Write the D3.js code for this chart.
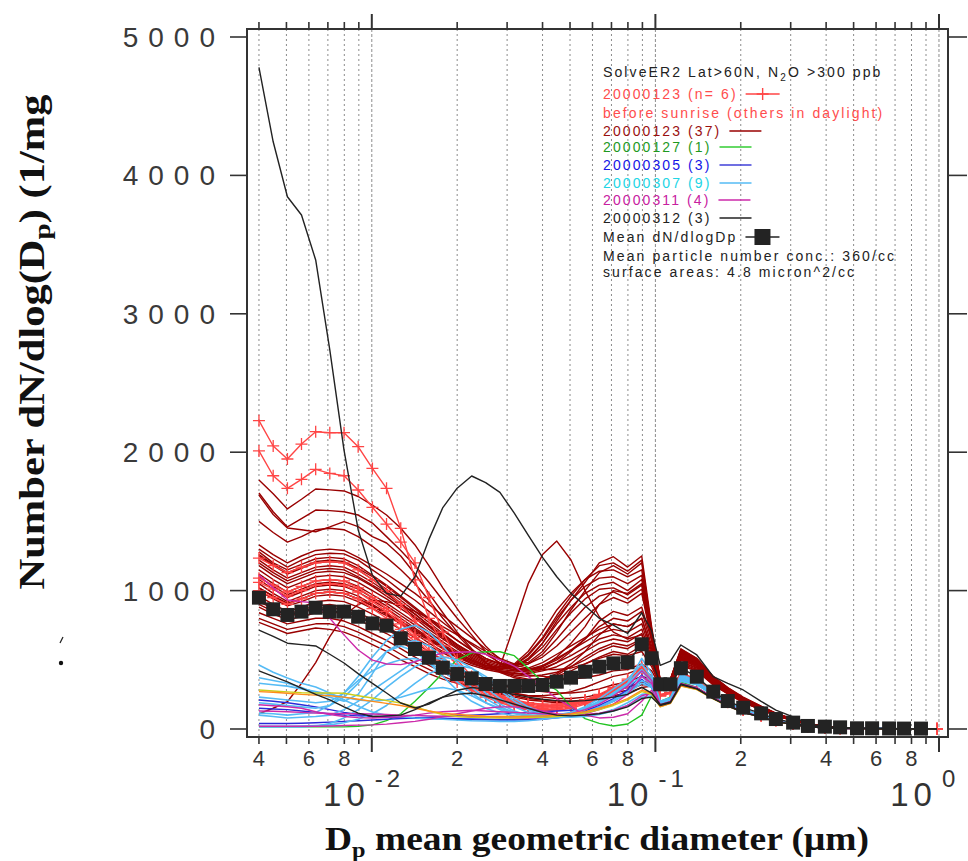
<!DOCTYPE html>
<html>
<head>
<meta charset="utf-8">
<script src="https://cdn.jsdelivr.net/npm/d3@7"></script>
<style>
	body { margin: 0; background: #fff; }
	svg { display: block; }
</style>
</head>
<body>
<svg id="svgSize" width="968" height="861"></svg>
<script>
// size bins (micron)
const diameters = [
	0.0040, 0.00449, 0.00504, 0.00565, 0.00634, 0.00711, 0.00798, 0.00895, 0.01005, 0.01127,
	0.01265, 0.0142, 0.0159, 0.0178, 0.0200, 0.0225, 0.0252, 0.0283, 0.0318, 0.0356,
	0.0400, 0.0449, 0.0504, 0.0565, 0.0634, 0.0711, 0.0798, 0.0895, 0.097, 0.104,
	0.113, 0.123, 0.140, 0.160, 0.180, 0.204, 0.236, 0.266, 0.306, 0.345,
	0.396, 0.448, 0.514, 0.581, 0.667, 0.753, 0.864, 0.984,
];

// 20000123 before sunrise (n=6)
const redPlusSeries = [
	[2228,2045,1951,2059,2148,2141,2141,2040,1883,1739, 1450,1077,800,600,450,350,280,230,200,180, 170,170,180,200,230,270,320,420,340,240, 260,400,350,260,195,140,98,64,38,19, 9,5,4,3,2,2,1,1],
	[2009,1830,1739,1804,1876,1847,1830,1727,1602,1481, 1350,1200,950,700,500,380,300,240,210,190, 180,180,190,210,240,280,330,430,345,245, 262,405,352,262,196,141,99,64,38,19, 9,5,4,3,2,2,1,1],
	[1235,1180,1130,1170,1200,1210,1200,1150,1080,1000, 900,780,650,520,420,340,270,220,190,170, 160,165,180,210,250,300,360,460,360,250, 265,410,355,265,198,142,100,65,39,19, 9,5,4,3,2,2,1,1],
	[1090,1040,990,1030,1070,1080,1070,1020,950,870, 780,680,570,460,380,310,250,210,180,160, 150,155,170,200,240,290,350,440,350,245, 262,405,352,262,196,141,99,64,38,19, 9,5,4,3,2,2,1,1],
	[1060,1010,960,1000,1040,1050,1040,990,920,850, 760,660,550,440,360,290,240,200,170,150, 140,145,160,190,230,280,340,430,345,242, 260,400,350,260,195,140,98,64,38,19, 9,5,4,3,2,2,1,1],
	[1000,950,900,940,980,990,980,940,870,800, 720,630,520,420,340,280,230,190,160,140, 130,135,150,180,220,270,330,420,340,240, 258,398,348,258,194,139,98,63,37,18, 9,5,4,3,2,2,1,1],
];

// 20000123 (37)
const darkRedSeries = [
	[1800,1700,1590,1660,1734,1728,1720,1680,1618,1546, 1450,1330,1180,1020,870,720,600,500,440,420, 450,520,620,740,900,1000,980,1050,700,350, 360,580,510,380,300,230,165,115,72,40, 20,10,6,4,3,2,2,1],
	[1705,1570,1460,1520,1582,1578,1570,1546,1488,1390, 1290,1180,1060,930,800,680,560,470,420,410, 430,480,560,650,780,850,820,880,640,340, 350,540,480,360,280,210,155,108,68,38, 18,9,5,4,3,2,2,1],
	[1690,1550,1452,1440,1425,1460,1498,1462,1390,1344, 1250,1120,980,840,700,580,480,420,380,360, 360,380,420,470,520,560,540,600,500,320, 340,500,450,340,265,200,148,104,65,36, 17,9,5,4,3,2,2,1],
	[1500,1420,1350,1390,1440,1450,1440,1390,1320,1240, 1150,1050,930,800,680,570,480,410,370,350, 360,400,470,560,680,760,740,800,580,330, 345,520,465,350,272,205,150,106,66,37, 17,9,5,4,3,2,2,1],
	[1330,1260,1200,1250,1290,1300,1290,1240,1180,1120, 1050,980,900,820,740,660,580,510,470,480, 560,700,860,1000,1130,1180,1120,1200,720,350, 360,570,505,375,295,225,162,112,70,39, 19,10,6,4,3,2,2,1],
	[1300,1230,1170,1220,1260,1270,1265,1220,1150,1080, 1000,930,850,770,690,610,540,480,450,500, 620,780,930,1060,1200,1245,1170,1250,740,355, 362,575,508,378,297,226,163,113,70,39, 19,10,6,4,3,2,2,1],
	[1280,1200,1150,1190,1230,1240,1230,1180,1110,1040, 960,880,800,720,640,570,510,470,460,540, 660,820,960,1080,1180,1200,1140,1220,710,350, 358,565,502,372,292,222,160,111,69,38, 19,10,6,4,3,2,2,1],
	[1260,1190,1130,1170,1210,1220,1210,1160,1100,1030, 950,870,790,710,640,570,510,470,440,430, 450,500,570,650,740,800,780,850,600,335, 345,540,486,358,282,213,154,106,66,36, 18,9,5,4,3,2,2,1],
	[1250,1180,1120,1160,1200,1210,1200,1150,1080,1010, 930,850,770,690,610,540,490,460,470,560, 700,860,980,1080,1140,1150,1100,1150,690,345, 355,560,498,368,290,220,158,110,68,38, 18,9,5,4,3,2,2,1],
	[1220,1150,1090,1130,1170,1180,1170,1120,1060,990, 910,830,750,670,600,530,480,450,460,530, 650,800,930,1030,1090,1100,1050,1110,680,342, 352,555,495,365,288,218,157,109,68,38, 18,9,5,4,3,2,2,1],
	[1200,1130,1070,1110,1150,1160,1150,1100,1040,980, 900,830,750,680,610,550,500,470,460,470, 520,600,700,800,900,950,910,980,640,338, 348,545,490,360,284,215,155,107,67,37, 18,9,5,4,3,2,2,1],
	[1180,1110,1050,1090,1130,1140,1130,1090,1030,960, 890,810,740,660,590,520,470,440,450,510, 620,760,880,980,1040,1060,1000,1080,670,340, 350,550,492,362,286,216,156,108,67,37, 18,9,5,4,3,2,2,1],
	[1150,1080,1020,1060,1100,1110,1100,1060,1000,940, 870,800,720,650,580,510,460,440,450,500, 590,720,840,940,1010,1020,970,1040,660,338, 348,545,490,360,284,215,155,107,67,37, 18,9,5,4,3,2,2,1],
	[1120,1050,990,1030,1070,1080,1070,1030,970,910, 840,770,700,630,560,500,460,440,440,470, 540,650,770,880,960,990,940,1010,650,335, 345,540,486,358,282,213,154,106,66,36, 18,9,5,4,3,2,2,1],
	[1100,1030,970,1010,1050,1060,1050,1010,950,890, 820,750,680,610,550,500,460,440,430,440, 480,540,600,660,720,760,740,800,560,330, 340,530,480,355,280,212,153,105,66,36, 18,9,5,4,3,2,2,1],
	[1080,1010,950,990,1030,1040,1030,990,930,870, 800,730,660,600,540,490,450,430,420,430, 460,510,570,630,690,720,700,760,540,325, 338,525,476,352,278,210,152,104,65,36, 17,9,5,4,3,2,2,1],
	[1050,980,920,960,1000,1010,1000,960,900,840, 780,720,650,590,530,480,440,420,410,420, 440,480,530,590,650,680,660,720,520,322, 335,520,472,350,276,208,150,103,65,36, 17,9,5,4,3,2,2,1],
	[1020,960,910,940,980,990,980,940,890,830, 770,710,650,590,540,490,450,420,400,390, 380,370,360,370,390,420,430,470,420,310, 322,500,455,340,268,202,146,100,63,35, 17,9,5,4,3,2,2,1],
	[1000,940,890,920,960,970,960,920,870,820, 760,700,640,580,520,470,440,420,400,400, 420,450,500,560,620,650,630,690,500,320, 332,515,470,348,274,207,149,102,64,35, 17,9,5,4,3,2,2,1],
	[960,900,850,880,920,930,920,880,830,780, 720,660,600,550,500,460,430,410,390,380, 390,410,450,500,560,600,580,640,480,318, 330,510,466,345,272,205,148,101,64,35, 17,9,5,4,3,2,2,1],
	[920,870,830,860,890,900,880,840,790,740, 680,620,560,500,440,390,350,320,300,280, 270,260,260,270,290,320,340,380,360,300, 315,480,440,330,262,198,143,98,62,34, 16,8,5,4,3,2,2,1],
	[900,850,810,840,870,880,860,820,770,720, 660,600,540,480,430,380,340,310,300,310, 340,390,450,520,580,620,600,650,480,318, 330,510,466,345,272,205,148,101,64,35, 17,9,5,4,3,2,2,1],
	[880,830,790,810,840,850,830,790,740,690, 630,570,510,450,400,350,310,280,260,240, 230,220,220,230,250,280,300,340,330,295, 310,470,432,325,258,195,141,97,61,34, 16,8,5,4,3,2,2,1],
	[840,800,760,780,800,800,780,740,690,640, 580,520,460,410,360,320,290,260,240,220, 210,200,200,210,230,260,280,320,320,292, 305,460,425,320,255,193,140,96,60,33, 16,8,5,4,3,2,2,1],
	[800,760,720,740,760,760,740,700,650,600, 540,480,430,380,340,300,270,250,230,210, 200,190,190,200,220,240,260,300,310,290, 302,455,420,318,253,192,139,95,60,33, 16,8,5,4,3,2,2,1],
	[770,730,690,710,730,720,700,660,610,560, 500,450,400,360,330,300,280,260,250,240, 240,250,270,300,340,380,400,440,380,305, 318,485,445,333,264,200,145,99,62,34, 16,8,5,4,3,2,2,1],
	[110,150,197,330,480,667,820,900,930,920, 890,850,800,740,680,620,560,500,460,440, 430,430,440,470,510,540,530,560,450,315, 328,505,462,342,270,204,147,101,63,35, 17,9,5,4,3,2,2,1],
	[1020,960,900,940,980,990,980,940,890,830, 760,690,620,560,520,480,440,450,750,1050, 1260,1358,1221,1000,811,700,650,680,480,318, 330,510,466,345,272,205,148,101,64,35, 17,9,5,4,3,2,2,1],
];

// 20000127 (1)
const greenSeries = [
	[15,15,15,15,15,15,15,20,30,60, 110,200,300,404,500,550,558,558,530,440, 340,280,160,75,41,22,36,100,240,200, 230,340,300,230,180,140,95,60,35,18, 10,6,4,3,3,2,2,1],
];

// 20000305 (3)
const blueSeries = [
	[210,200,190,175,160,140,120,105,92,85, 80,78,75,72,70,68,66,65,65,66, 70,80,95,120,160,210,270,360,300,168, 192,322,292,222,168,122,86,55,33,16, 8,5,4,3,2,2,1,1],
	[150,145,140,130,120,110,100,95,90,88, 85,82,80,78,75,73,70,68,68,70, 75,85,100,130,170,220,285,390,320,170, 194,324,293,223,169,122,86,55,33,16, 8,5,4,3,2,2,1,1],
	[40,40,40,42,45,50,55,60,65,70, 75,80,85,90,95,100,105,110,115,120, 125,130,135,140,160,200,260,350,300,168, 190,318,289,221,167,121,85,54,32,16, 8,5,4,3,2,2,1,1],
];

// 20000307 (9)
const cyanSeries = [
	[462,410,368,330,303,260,210,165,123,100, 89,80,75,70,65,60,58,55,55,60, 70,85,110,150,200,260,330,510,400,200, 225,395,345,260,195,142,100,65,40,20, 10,6,4,3,2,2,1,1],
	[370,350,330,300,260,230,200,250,400,560, 620,640,600,520,400,300,220,160,120,100, 95,100,120,160,220,290,360,470,370,195, 220,385,340,256,192,140,98,64,39,19, 10,6,4,3,2,2,1,1],
	[230,220,210,200,190,200,260,380,520,640, 720,750,700,600,480,360,260,180,130,100, 90,95,110,150,200,260,330,430,350,190, 215,375,335,252,190,138,97,63,38,19, 10,6,4,3,2,2,1,1],
	[190,180,170,160,150,170,230,330,460,560, 600,560,480,380,280,200,150,115,95,85, 85,90,105,140,190,250,310,380,320,185, 210,365,330,250,188,137,96,62,38,19, 9,5,4,3,2,2,1,1],
	[115,110,100,110,120,170,260,350,420,470, 500,510,480,420,340,260,190,140,110,90, 80,80,90,110,150,200,260,330,300,180, 205,355,325,248,187,136,95,62,38,18, 9,5,4,3,2,2,1,1],
	[100,90,80,85,90,100,140,200,280,350, 420,490,520,500,450,380,300,220,160,120, 100,95,100,120,160,210,270,350,310,182, 208,360,328,249,188,137,96,62,38,18, 9,5,4,3,2,2,1,1],
	[15,15,15,15,20,40,80,140,210,300, 380,450,500,520,500,440,360,280,200,140, 110,100,110,140,190,250,320,420,340,188, 212,370,333,251,189,137,96,62,38,18, 9,5,4,3,2,2,1,1],
	[20,20,20,22,25,30,45,70,110,170, 250,330,400,440,460,440,380,300,220,160, 120,100,90,95,110,140,190,250,260,178, 203,350,322,246,186,135,95,61,37,18, 9,5,4,3,2,2,1,1],
	[330,320,310,290,270,250,230,210,200,210, 230,260,290,300,280,240,190,150,120,100, 90,85,85,90,105,130,170,230,240,175, 200,345,320,245,185,134,94,61,37,18, 9,5,4,3,2,2,1,1],
];

// 20000311 (4)
const magentaSeries = [
	[1113,1020,932,920,910,800,680,571,498,470, 465,486,520,549,555,558,540,500,455,380, 300,220,160,100,80,85,110,200,280,175, 200,330,300,228,172,125,88,57,35,17, 9,5,4,3,2,2,1,1],
	[175,168,161,150,125,105,90,82,80,85, 89,100,115,125,130,135,130,125,120,115, 110,105,100,105,115,135,170,240,260,172, 198,328,296,226,170,124,87,56,34,17, 9,5,4,3,2,2,1,1],
	[20,20,20,20,20,22,25,28,30,35, 45,55,70,90,110,130,150,160,160,150, 130,110,100,110,140,180,250,380,330,170, 195,325,294,224,169,123,86,55,33,16, 8,5,4,3,2,2,1,1],
	[130,128,125,120,115,112,110,110,108,105, 100,98,95,92,90,88,85,82,80,80, 85,95,110,140,180,240,310,420,350,172, 196,326,295,225,170,123,86,55,33,16, 8,5,4,3,2,2,1,1],
];

// 20000312 (3)
const blackSeries = [
	[4780,4243,3846,3714,3389,2740,2015,1440,1110,980, 960,1100,1370,1600,1740,1828,1780,1710,1560,1400, 1240,1100,980,890,800,750,690,840,710,460, 490,607,535,378,330,282,200,137,87,40, 15,8,5,3,2,1,1,0],
	[715,670,620,610,600,540,477,400,330,260, 188,152,180,230,280,300,290,270,250,230, 215,205,200,205,215,230,250,300,260,175, 195,325,292,222,168,122,86,55,33,16, 8,5,4,3,2,2,1,1],
	[420,380,340,296,250,210,160,115,90,95, 100,140,188,230,250,260,240,210,180,150, 120,100,95,100,110,130,160,220,230,170, 190,320,290,220,167,121,85,54,32,16, 8,5,4,3,2,2,1,1],
];

const yellowSeries = [
	[282,275,268,262,260,260,258,240,224,205, 188,160,130,105,90,85,82,80,80,82, 85,90,100,115,140,170,210,270,250,160, 185,310,285,218,165,120,84,54,32,16, 8,5,4,3,2,2,1,1],
];
const orangeSeries = [
	[270,265,258,250,245,240,230,215,200,185, 170,150,130,115,105,98,92,90,90,92, 95,100,110,125,150,180,220,280,260,162, 186,312,286,219,166,120,84,54,32,16, 8,5,4,3,2,2,1,1],
];

// Mean dN/dlogDp
const meanSeries = [
	949,865,824,848,876,848,848,811,763,747, 655,578,515,443,397,366,325,311,311,311,
	318,342,371,414,450,474,482,612,511,323, 323,439,378,270,202,154,113,72,46,22,
	17,12,5,5,4,3,3,
];

const yTicks = [0, 1000, 2000, 3000, 4000, 5000];
const xDigitLabels = [2, 4, 6, 8];

const legendLines = [
	{ label: "20000123 (n= 6)", text: "#ff4d4d", line: "#ff4545", sym: "plus" },
	{ label: "before sunrise (others in daylight)", text: "#ff4d4d", sym: null },
	{ label: "20000123 (37)", text: "#9a1010", line: "#990000", sym: "line" },
	{ label: "20000127 (1)", text: "#1e991e", line: "#33cc33", sym: "line" },
	{ label: "20000305 (3)", text: "#1515e6", line: "#4040d8", sym: "line" },
	{ label: "20000307 (9)", text: "#22d5e5", line: "#55bbf5", sym: "line" },
	{ label: "20000311 (4)", text: "#c8209f", line: "#cc2aaa", sym: "line" },
	{ label: "20000312 (3)", text: "#222222", line: "#222222", sym: "line" },
	{ label: "Mean dN/dlogDp", text: "#222222", line: "#222222", sym: "square" },
	{ label: "Mean particle number conc.: 360/cc", text: "#222222", sym: null },
	{ label: "surface areas: 4.8 micron^2/cc", text: "#222222", sym: null },
];

let frame = { left: 247, right: 948, top: 29, bottom: 737 };

const svg = d3.select("#svgSize");

const x = d3.scaleLog().domain([0.00363, 1.076]).range([frame.left, frame.right]);
const y = d3.scaleLinear().domain([0, 5000]).range([729, 37]);

svg.append("defs")
	.append("clipPath")
	.attr("id", "plotClip")
	.append("rect")
	.attr("x", frame.left)
	.attr("y", frame.top)
	.attr("width", frame.right - frame.left)
	.attr("height", frame.bottom - frame.top);

const xTickVals = x.ticks();
const isMajor = (d) => Math.abs(Math.log10(d) - Math.round(Math.log10(d))) < 1e-6;
const leadDigit = (d) => Math.round(d / Math.pow(10, Math.floor(Math.log10(d) + 1e-9)));

// vertical dotted grid
svg.append("g")
	.selectAll("line")
	.data(xTickVals)
	.enter()
	.append("line")
	.attr("x1", (d) => x(d))
	.attr("x2", (d) => x(d))
	.attr("y1", frame.top)
	.attr("y2", frame.bottom)
	.attr("stroke", "#8c8c8c")
	.attr("stroke-width", 1)
	.attr("stroke-dasharray", (d) => (isMajor(d) ? "3,2" : "2,3"));

const plot = svg.append("g").attr("clip-path", "url(#plotClip)");

const line = d3
	.line()
	.x((v, i) => x(diameters[i]))
	.y((v) => y(v));

function drawGroup(series, colour, width) {
	plot.append("g")
		.selectAll("path")
		.data(series)
		.enter()
		.append("path")
		.attr("d", line)
		.attr("fill", "none")
		.attr("stroke", colour)
		.attr("stroke-width", width)
		.attr("stroke-linejoin", "round");
}

drawGroup(darkRedSeries, "#990000", 1.4);
drawGroup(redPlusSeries, "#ff4545", 1.4);

// plus markers
redPlusSeries.forEach(function (s) {
	plot.append("g")
		.selectAll("path")
		.data(s)
		.enter()
		.append("path")
		.attr("d", (v, i) => `M${x(diameters[i]) - 6},${y(v)}h12M${x(diameters[i])},${y(v) - 6}v12`)
		.attr("stroke", "#ff4545")
		.attr("stroke-width", 1.3)
		.attr("fill", "none");
});

drawGroup(greenSeries, "#22c422", 1.4);
drawGroup(blueSeries, "#2a2ad8", 1.4);
drawGroup(cyanSeries, "#55bbf5", 1.6);
drawGroup(magentaSeries, "#cc2aaa", 1.4);
drawGroup(yellowSeries, "#cccc1a", 1.4);
drawGroup(orangeSeries, "#ff8c1a", 1.4);
drawGroup(blackSeries, "#222222", 1.4);

// mean squares
plot.append("path")
	.attr("d", line(meanSeries))
	.attr("fill", "none")
	.attr("stroke", "#222")
	.attr("stroke-width", 1.4);

plot.append("g")
	.selectAll("rect")
	.data(meanSeries)
	.enter()
	.append("rect")
	.attr("x", (v, i) => x(diameters[i]) - 7)
	.attr("y", (v) => y(v) - 7)
	.attr("width", 14)
	.attr("height", 14)
	.attr("fill", "#232323");

// frame
svg.append("rect")
	.attr("x", frame.left)
	.attr("y", frame.top)
	.attr("width", frame.right - frame.left)
	.attr("height", frame.bottom - frame.top)
	.attr("fill", "none")
	.attr("stroke", "#333")
	.attr("stroke-width", 2);

// x ticks top and bottom
const xt = svg.append("g");
xTickVals.forEach(function (d) {
	let len = isMajor(d) ? 15 : 7;
	xt.append("line")
		.attr("x1", x(d)).attr("x2", x(d))
		.attr("y1", frame.top).attr("y2", frame.top - len)
		.attr("stroke", "#333").attr("stroke-width", isMajor(d) ? 2 : 1.6);
	xt.append("line")
		.attr("x1", x(d)).attr("x2", x(d))
		.attr("y1", frame.bottom).attr("y2", frame.bottom + len)
		.attr("stroke", "#333").attr("stroke-width", isMajor(d) ? 2 : 1.6);
});

// minor digit labels
svg.append("g")
	.selectAll("text")
	.data(xTickVals.filter((d) => !isMajor(d) && xDigitLabels.includes(leadDigit(d))))
	.enter()
	.append("text")
	.attr("x", (d) => x(d))
	.attr("y", 766)
	.attr("text-anchor", "middle")
	.attr("font-family", "Liberation Sans, Arial, sans-serif")
	.attr("font-size", 22)
	.attr("fill", "#333")
	.text((d) => leadDigit(d));

// decade labels
const majors = xTickVals.filter(isMajor);
majors.forEach(function (d) {
	svg.append("text")
		.attr("x", x(d) - 2)
		.attr("y", 806)
		.attr("text-anchor", "end")
		.attr("font-family", "Liberation Sans, Arial, sans-serif")
		.attr("font-size", 33)
		.attr("letter-spacing", 5)
		.attr("fill", "#333")
		.text("10");
	svg.append("text")
		.attr("x", x(d) + 3)
		.attr("y", 787)
		.attr("font-family", "Liberation Sans, Arial, sans-serif")
		.attr("font-size", 24)
		.attr("letter-spacing", 4)
		.attr("fill", "#333")
		.text(Math.round(Math.log10(d)) === 0 ? "0" : Math.round(Math.log10(d)));
});

// y ticks left and right
const yt = svg.append("g");
yTicks.forEach(function (t) {
	yt.append("line")
		.attr("x1", 230).attr("x2", frame.left)
		.attr("y1", y(t)).attr("y2", y(t))
		.attr("stroke", "#333").attr("stroke-width", 1.6);
	yt.append("line")
		.attr("x1", frame.right).attr("x2", 967)
		.attr("y1", y(t)).attr("y2", y(t))
		.attr("stroke", "#333").attr("stroke-width", 1.6);
	yt.append("text")
		.attr("x", 225)
		.attr("y", y(t) + 10)
		.attr("text-anchor", "end")
		.attr("font-family", "Liberation Sans, Arial, sans-serif")
		.attr("font-size", 28)
		.attr("letter-spacing", 10)
		.attr("fill", "#3a3a3a")
		.text(t);
});

// axis titles
const yTitle = svg.append("text")
	.attr("transform", "translate(44,342) rotate(-90)")
	.attr("text-anchor", "middle")
	.attr("font-family", "Liberation Serif, Times New Roman, serif")
	.attr("font-weight", "bold")
	.attr("font-size", 35)
	.attr("fill", "#111")
	.attr("textLength", 495)
	.attr("lengthAdjust", "spacingAndGlyphs");
yTitle.append("tspan").text("Number dN/dlog(D");
yTitle.append("tspan").attr("font-size", 24).attr("dy", 6).text("p");
yTitle.append("tspan").attr("dy", -6).text(") (1/mg");

// stray marks left of the axis
svg.append("path")
	.attr("d", "M60,643 L63,637")
	.attr("stroke", "#222")
	.attr("stroke-width", 1.2);
svg.append("circle")
	.attr("cx", 61)
	.attr("cy", 663)
	.attr("r", 2.2)
	.attr("fill", "#111");

const xTitle = svg.append("text")
	.attr("x", 597)
	.attr("y", 850)
	.attr("text-anchor", "middle")
	.attr("font-family", "Liberation Serif, Times New Roman, serif")
	.attr("font-weight", "bold")
	.attr("font-size", 34)
	.attr("fill", "#111")
	.attr("textLength", 544)
	.attr("lengthAdjust", "spacingAndGlyphs");
xTitle.append("tspan").text("D");
xTitle.append("tspan").attr("font-size", 22).attr("dy", 7).text("p");
xTitle.append("tspan").attr("dy", -7).text(" mean geometric diameter (\u03bcm)");

// legend
const lg = svg.append("g")
	.attr("font-family", "Liberation Sans, Arial, sans-serif")
	.attr("font-size", 14)
	.attr("letter-spacing", 2.1);

const lgTitle = lg.append("text").attr("x", 603).attr("y", 77).attr("fill", "#222");
lgTitle.append("tspan").text("SolveER2 Lat>60N, N");
lgTitle.append("tspan").attr("font-size", 10).attr("dy", 4).text("2");
lgTitle.append("tspan").attr("dy", -4).text("O  >300 ppb");

const rowY = [94, 113, 131, 147, 165, 183, 200, 218, 237, 256, 272];
legendLines.forEach(function (d, i) {
	let t = lg.append("text")
		.attr("x", 603)
		.attr("y", rowY[i] + 5)
		.attr("fill", d.text)
		.text(d.label);
	if (!d.sym) return;
	let w = t.node().getComputedTextLength();
	let x0 = 603 + w + 8;
	let len = d.sym === "line" ? 32 : 34;
	lg.append("line")
		.attr("x1", x0).attr("x2", x0 + len)
		.attr("y1", rowY[i]).attr("y2", rowY[i])
		.attr("stroke", d.line)
		.attr("stroke-width", 1.6);
	if (d.sym === "plus") {
		lg.append("path")
			.attr("d", `M${x0 + len / 2 - 6},${rowY[i]}h12M${x0 + len / 2},${rowY[i] - 6}v12`)
			.attr("stroke", d.line)
			.attr("stroke-width", 1.4);
	}
	if (d.sym === "square") {
		lg.append("rect")
			.attr("x", x0 + len / 2 - 8)
			.attr("y", rowY[i] - 8)
			.attr("width", 16)
			.attr("height", 16)
			.attr("fill", "#232323");
	}
});
</script>
</body>
</html>
